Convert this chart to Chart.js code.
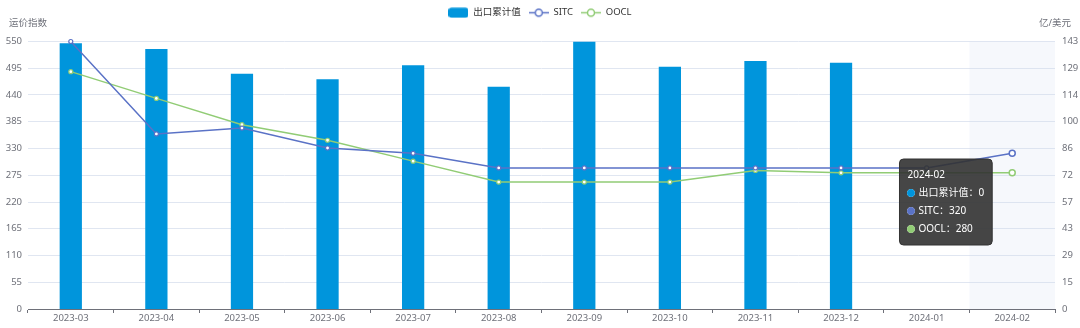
<!DOCTYPE html>
<html>
<head>
<meta charset="utf-8">
<script src="https://cdn.jsdelivr.net/npm/chart.js@4.4.1/dist/chart.umd.min.js"></script>
<style>
  html, body { margin: 0; padding: 0; background: #fff; }
</style>
</head>
<body>
<canvas id="freight" width="1080" height="328"></canvas>
<script>
const months = ['2023-03', '2023-04', '2023-05', '2023-06', '2023-07', '2023-08',
  '2023-09', '2023-10', '2023-11', '2023-12', '2024-01', '2024-02'];
const exportTotal = [142, 139, 125.8, 122.8, 130.3, 118.8, 143, 129.5, 132.6, 131.6, 0, 0];
const sitcIndex = [550, 360, 372, 331, 320, 290, 290, 290, 290, 290, 290, 320];
const ooclIndex = [488, 433, 379, 347, 304, 261, 261, 261, 285, 280, 280, 280];
const rightTickLabels = ['0', '15', '29', '43', '57', '72', '86', '100', '114', '129', '143'];
const shadedIndex = 11;

const barColor = '#0095dc';
const sitcColor = '#5a72c6';
const ooclColor = '#91cc75';
const axisGrey = '#6e7079';

Chart.defaults.font.family = "'Noto Sans', 'Noto Sans CJK SC', sans-serif";
Chart.defaults.font.size = 9.5;

function legendIcon(kind, color) {
  const c = document.createElement('canvas');
  c.width = 20; c.height = 11;
  const g = c.getContext('2d');
  if (kind === 'bar') {
    g.fillStyle = color;
    g.beginPath();
    g.roundRect(0, 0.5, 20, 10, 3);
    g.fill();
  } else {
    g.strokeStyle = color;
    g.lineWidth = 1.5;
    g.beginPath();
    g.moveTo(0, 5.5); g.lineTo(20, 5.5);
    g.stroke();
    g.beginPath();
    g.arc(10, 5.5, 3.5, 0, Math.PI * 2);
    g.fillStyle = '#fff';
    g.fill();
    g.stroke();
  }
  return c;
}
const icons = [legendIcon('bar', barColor), legendIcon('line', sitcColor), legendIcon('line', ooclColor)];

// push the plot down under the legend like the original
const legendGap = {
  id: 'legendGap',
  beforeInit(chart) {
    const fitValue = chart.legend.fit;
    chart.legend.fit = function fit() {
      fitValue.bind(chart.legend)();
      return this.height = 41.5;
    };
  }
};

// axis pointer shadow on the hovered month
const hoverShade = {
  id: 'hoverShade',
  beforeDatasetsDraw(chart) {
    const x = chart.scales.x, area = chart.chartArea, ctx = chart.ctx;
    const w = x.getPixelForValue(1) - x.getPixelForValue(0);
    const cx = x.getPixelForValue(shadedIndex);
    ctx.save();
    ctx.fillStyle = 'rgba(210,219,238,0.2)';
    ctx.fillRect(cx - w / 2, area.top, w, area.bottom - area.top);
    ctx.restore();
  }
};

// horizontal axis names above each y axis
const axisNames = {
  id: 'axisNames',
  afterDraw(chart) {
    const ctx = chart.ctx, area = chart.chartArea;
    ctx.save();
    ctx.font = "9.5px 'Noto Sans', 'Noto Sans CJK SC', sans-serif";
    ctx.fillStyle = axisGrey;
    ctx.textAlign = 'center';
    ctx.textBaseline = 'middle';
    ctx.fillText('运价指数', area.left, area.top - 18);
    ctx.fillText('亿/美元', area.right, area.top - 18);
    ctx.restore();
  }
};

Chart.Tooltip.positioners.besideMonth = function(items) {
  if (!items.length) return false;
  const area = this.chart.chartArea;
  return { x: items[0].element.x - 20, y: area.top + (area.bottom - area.top) * 0.6 };
};

let ctx = document.getElementById('freight').getContext('2d');
let freight = new Chart(ctx, {
  type: 'bar',
  data: {
    labels: months,
    datasets: [{
      type: 'bar',
      label: '出口累计值',
      data: exportTotal,
      backgroundColor: barColor,
      hoverBackgroundColor: barColor,
      yAxisID: 'y1',
      order: 3,
      barPercentage: 0.26,
      categoryPercentage: 1
    },
    {
      type: 'line',
      label: 'SITC',
      data: sitcIndex,
      borderColor: sitcColor,
      backgroundColor: '#fff',
      borderWidth: 1.5,
      pointRadius: 2,
      pointBorderWidth: 1.2,
      pointHoverRadius: 3,
      pointHoverBorderWidth: 1.5,
      pointHoverBorderColor: sitcColor,
      pointHoverBackgroundColor: '#fff',
      tension: 0,
      clip: false,
      yAxisID: 'y',
      order: 1
    },
    {
      type: 'line',
      label: 'OOCL',
      data: ooclIndex,
      borderColor: ooclColor,
      backgroundColor: '#fff',
      borderWidth: 1.5,
      pointRadius: 2,
      pointBorderWidth: 1.2,
      pointHoverRadius: 3,
      pointHoverBorderWidth: 1.5,
      pointHoverBorderColor: ooclColor,
      pointHoverBackgroundColor: '#fff',
      tension: 0,
      clip: false,
      yAxisID: 'y',
      order: 2
    }]
  },
  plugins: [legendGap, hoverShade, axisNames],
  options: {
    responsive: false,
    animation: false,
    layout: { padding: 0 },
    interaction: { mode: 'index', intersect: false },
    plugins: {
      legend: {
        position: 'top',
        labels: {
          color: '#333',
          usePointStyle: true,
          pointStyleWidth: 20,
          boxHeight: 9.5,
          padding: 8,
          generateLabels(chart) {
            return chart.data.datasets.map((ds, i) => ({
              text: ds.label,
              pointStyle: icons[i],
              fillStyle: 'transparent',
              strokeStyle: 'transparent',
              lineWidth: 0,
              fontColor: '#333',
              hidden: false,
              datasetIndex: i
            }));
          }
        }
      },
      tooltip: {
        position: 'besideMonth',
        xAlign: 'right',
        yAlign: 'center',
        backgroundColor: 'rgba(50,50,50,0.9)',
        borderColor: '#333',
        borderWidth: 1,
        cornerRadius: 4,
        caretSize: 0,
        caretPadding: 0,
        titleColor: '#fff',
        bodyColor: '#fff',
        titleFont: { size: 10, weight: 'normal' },
        bodyFont: { size: 10 },
        padding: { top: 10, bottom: 10, left: 8, right: 8 },
        titleMarginBottom: 6,
        bodySpacing: 6,
        boxWidth: 7,
        boxHeight: 7,
        boxPadding: 2,
        usePointStyle: true,
        callbacks: {
          label: (item) => item.dataset.label + '：' + item.raw,
          labelColor: (item) => {
            const c = [barColor, sitcColor, ooclColor][item.datasetIndex];
            return { borderColor: c, backgroundColor: c, borderWidth: 0 };
          },
          labelPointStyle: () => ({ pointStyle: 'circle', rotation: 0 })
        }
      }
    },
    scales: {
      x: {
        offset: true,
        grid: {
          drawOnChartArea: false,
          drawTicks: true,
          tickLength: 4,
          offset: true,
          color: axisGrey
        },
        border: { display: true, color: axisGrey },
        ticks: { color: axisGrey, padding: 0, maxRotation: 0, autoSkip: false },
        afterFit(scale) { scale.height = 19; }
      },
      y: {
        position: 'left',
        min: 0,
        max: 550,
        ticks: { stepSize: 55, color: axisGrey, padding: 6 },
        grid: {
          drawTicks: false,
          color: (c) => (c.tick && c.tick.value === 0) ? 'rgba(0,0,0,0)' : '#e0e6f1'
        },
        border: { display: false },
        afterFit(scale) { scale.width = 28; }
      },
      y1: {
        position: 'right',
        min: 0,
        max: 143,
        ticks: {
          count: 11,
          color: axisGrey,
          padding: 7,
          callback: (v, i) => rightTickLabels[i]
        },
        grid: { display: false, drawTicks: false },
        border: { display: false },
        afterFit(scale) { scale.width = 25; }
      }
    }
  }
});

const active = [0, 1, 2].map(d => ({ datasetIndex: d, index: shadedIndex }));
freight.setActiveElements(active);
freight.tooltip.setActiveElements(active, { x: 0, y: 0 });
freight.update();
</script>
</body>
</html>
